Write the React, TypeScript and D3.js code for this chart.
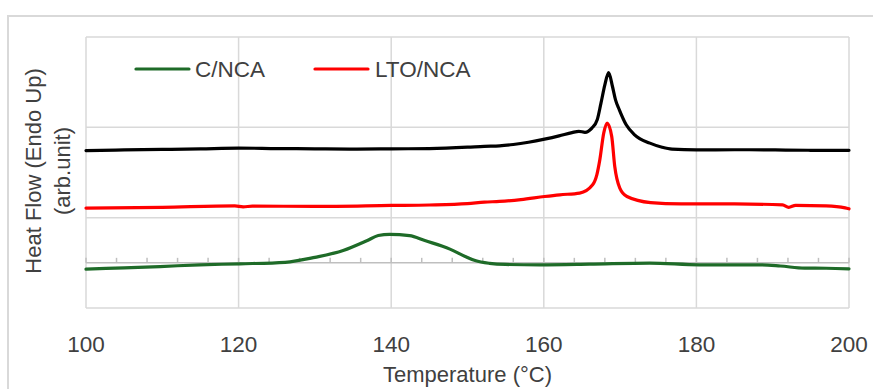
import React from 'react';
import * as d3 from 'd3';

const W = 873;
const H = 389;

const xTickLabels = [100, 120, 140, 160, 180, 200];
const minorTickValues = d3.range(100, 201, 4);
const yGridValues = [-0.5, 0.5, 1.5, 2.5];

// Black trace (unlabelled in legend)
const blackT = [100, 105, 110, 115, 120, 125, 130, 135, 140, 145, 150, 152.2, 154.2, 156, 158, 160.1, 162, 163.7, 164.6, 165.4, 166.3, 167.0, 167.5, 168.0, 168.5, 169.0, 169.4, 169.9, 170.8, 171.9, 173.9, 175.5, 176.8, 180, 185, 190, 195, 200];
const blackV = [1.243, 1.25, 1.255, 1.262, 1.27, 1.265, 1.262, 1.258, 1.262, 1.265, 1.28, 1.29, 1.295, 1.31, 1.335, 1.369, 1.405, 1.442, 1.456, 1.445, 1.491, 1.583, 1.771, 1.971, 2.107, 1.952, 1.804, 1.694, 1.528, 1.417, 1.325, 1.28, 1.259, 1.251, 1.252, 1.25, 1.246, 1.245];

// LTO/NCA (red)
const ltoT = [100, 110, 119.5, 120.6, 121.8, 130, 140, 145, 150, 152.2, 154.2, 157, 160.1, 162.1, 164.7, 166.4, 166.95, 167.34, 167.86, 168.3, 168.9, 169.3, 169.96, 170.9, 174, 178, 185, 191.3, 192.1, 193, 197, 199.5, 200];
const ltoV = [0.606, 0.615, 0.63, 0.62, 0.628, 0.625, 0.635, 0.64, 0.655, 0.672, 0.68, 0.70, 0.734, 0.753, 0.772, 0.864, 0.974, 1.14, 1.439, 1.547, 1.40, 1.066, 0.827, 0.734, 0.667, 0.653, 0.652, 0.642, 0.615, 0.637, 0.631, 0.609, 0.598];

// C/NCA (green)
const cT = [100, 105, 109.7, 114.9, 120.2, 126.1, 130, 133.7, 136.8, 138.3, 139.8, 142.4, 144.4, 147.7, 149.7, 151, 152.9, 155, 159.5, 166, 173.9, 180.4, 188.3, 191, 194.2, 197, 200];
const cV = [-0.07, -0.055, -0.041, -0.022, -0.011, 0.006, 0.061, 0.136, 0.244, 0.302, 0.316, 0.302, 0.247, 0.152, 0.07, 0.025, -0.006, -0.018, -0.022, -0.015, -0.003, -0.022, -0.022, -0.035, -0.059, -0.06, -0.066];

const seriesNames = ['NCA', 'C/NCA', 'LTO/NCA'];
const legendNames = ['C/NCA', 'LTO/NCA'];

const plot = { left: 86, right: 849, top: 37, bottom: 308 };

export default function App() {
  const x = d3.scaleLinear().domain([100, 200]).range([plot.left, plot.right]);
  const y = d3.scaleLinear().domain([-0.5, 2.5]).range([plot.bottom, plot.top]);

  const line = d3
    .line<[number, number]>()
    .x((d) => x(d[0]))
    .y((d) => y(d[1]))
    .curve(d3.curveMonotoneX);

  const zip = (t: number[], v: number[]) => t.map((tt, i) => [tt, v[i]] as [number, number]);

  const series = [
    { name: seriesNames[0], color: '#000000', pts: zip(blackT, blackV) },
    { name: seriesNames[1], color: '#1e6b28', pts: zip(cT, cV) },
    { name: seriesNames[2], color: '#ff0000', pts: zip(ltoT, ltoV) },
  ];

  const font = '"Liberation Sans", Arial, sans-serif';
  const grid = '#d9d9d9';

  return (
    <div style={{ position: 'absolute', left: 0, top: 0 }}>
      <svg width={W} height={H} style={{ display: 'block' }}>
        <rect x={0} y={0} width={W} height={H} fill="#ffffff" />
        <rect x={8} y={16} width={W + 20} height={H + 20} fill="#ffffff" stroke={grid} strokeWidth={2} />

        {yGridValues.map((v) => (
          <line key={'h' + v} x1={plot.left} x2={plot.right} y1={y(v)} y2={y(v)} stroke={grid} strokeWidth={1.5} />
        ))}
        {xTickLabels.map((t) => (
          <line key={'v' + t} x1={x(t)} x2={x(t)} y1={plot.top} y2={plot.bottom} stroke={grid} strokeWidth={1.5} />
        ))}

        <line x1={plot.left} x2={plot.right} y1={y(0)} y2={y(0)} stroke="#bfbfbf" strokeWidth={1.5} />
        {minorTickValues.map((t) => (
          <line key={'m' + t} x1={x(t)} x2={x(t)} y1={y(0)} y2={y(0) - 5} stroke="#bfbfbf" strokeWidth={1.5} />
        ))}

        {series.map((s) => (
          <path key={s.name} d={line(s.pts) || ''} fill="none" stroke={s.color} strokeWidth={3.2} strokeLinejoin="round" strokeLinecap="round" />
        ))}

        {xTickLabels.map((t) => (
          <text key={'l' + t} x={x(t)} y={352} textAnchor="middle" fontFamily={font} fontSize={22.5} fill="#404040">
            {t}
          </text>
        ))}
        <text x={(plot.left + plot.right) / 2} y={382} textAnchor="middle" fontFamily={font} fontSize={22} fill="#404040">
          Temperature (°C)
        </text>

        <g transform="translate(41,171) rotate(-90)">
          <text x={0} y={0} textAnchor="middle" fontFamily={font} fontSize={22} fill="#404040">
            Heat Flow (Endo Up)
          </text>
          <text x={0} y={29} textAnchor="middle" fontFamily={font} fontSize={22} fill="#404040">
            (arb.unit)
          </text>
        </g>

        <line x1={136} x2={189} y1={69} y2={69} stroke="#1e6b28" strokeWidth={3.2} strokeLinecap="round" />
        <text x={195} y={77} fontFamily={font} fontSize={22.5} fill="#404040">{legendNames[0]}</text>
        <line x1={315} x2={368} y1={69} y2={69} stroke="#ff0000" strokeWidth={3.2} strokeLinecap="round" />
        <text x={375} y={77} fontFamily={font} fontSize={22.5} fill="#404040">{legendNames[1]}</text>
      </svg>
    </div>
  );
}
